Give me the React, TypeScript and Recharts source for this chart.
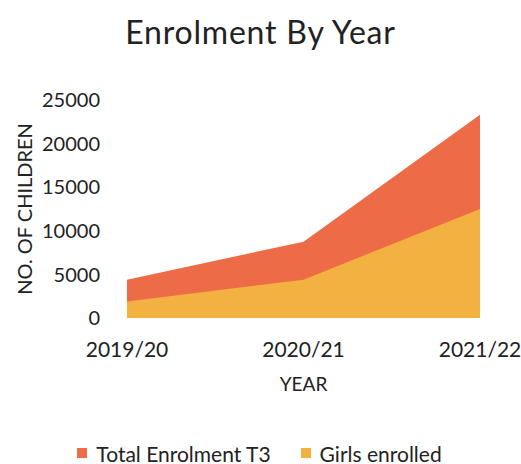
import React from 'react';
import { AreaChart, Area, XAxis, YAxis, Legend } from 'recharts';

const years = ['2019/20', '2020/21', '2021/22'];
const totalEnrolment = [4400, 8750, 23300];
const girlsEnrolled = [1900, 4400, 12500];
const yTicks = [0, 5000, 10000, 15000, 20000, 25000];

const FONT = 'Lato, "Open Sans", sans-serif';
const TOTAL_COLOR = '#EE6B47';
const GIRLS_COLOR = '#F3B141';

const chartData = years.map((year, i) => ({
  year,
  total: totalEnrolment[i],
  girls: girlsEnrolled[i],
}));

const legendItems = [
  { name: 'Total Enrolment T3', color: TOTAL_COLOR },
  { name: 'Girls enrolled', color: GIRLS_COLOR },
];

const CustomLegend = () => (
  <div style={{ display: 'flex', justifyContent: 'center', alignItems: 'center', height: 22, paddingLeft: 12 }}>
    {legendItems.map((item, i) => (
      <div key={item.name} style={{ display: 'flex', alignItems: 'center', marginRight: i === 0 ? 30 : 0 }}>
        <span style={{ width: 10, height: 10, background: item.color, display: 'inline-block', marginRight: 9 }} />
        <span style={{ fontSize: 21, color: '#222', fontFamily: FONT }}>{item.name}</span>
      </div>
    ))}
  </div>
);

export default function App() {
  return (
    <div style={{ position: 'absolute', left: 0, top: 0, width: 521, height: 464, background: '#fff', fontFamily: FONT }}>
      <div
        style={{
          position: 'absolute',
          left: 0,
          top: 12,
          width: 521,
          textAlign: 'center',
          fontSize: 32,
          letterSpacing: 0.8,
          color: '#222',
        }}
      >
        Enrolment By Year
      </div>
      <AreaChart
        width={521}
        height={464}
        data={chartData}
        margin={{ top: 100, right: 41, left: 27, bottom: 0 }}
      >
        <XAxis
          dataKey="year"
          axisLine={false}
          tickLine={false}
          tickMargin={18}
          height={124}
          tick={{ fill: '#222', fontSize: 21, fontFamily: FONT }}
          label={{ value: 'YEAR', position: 'insideTop', offset: 60, fill: '#222', fontSize: 19, fontFamily: FONT }}
        />
        <YAxis
          width={100}
          domain={[0, 25000]}
          ticks={yTicks}
          axisLine={false}
          tickLine={false}
          tickMargin={21}
          tick={{ fill: '#222', fontSize: 20, fontFamily: FONT }}
          label={{
            value: 'NO. OF CHILDREN',
            angle: -90,
            position: 'insideLeft',
            offset: -2,
            fill: '#222',
            fontSize: 20,
            fontFamily: FONT,
            style: { textAnchor: 'middle' },
          }}
        />
        <Legend verticalAlign="bottom" height={22} content={<CustomLegend />} />
        <Area
          type="linear"
          dataKey="total"
          name="Total Enrolment T3"
          stroke="none"
          fill={TOTAL_COLOR}
          fillOpacity={1}
          isAnimationActive={false}
        />
        <Area
          type="linear"
          dataKey="girls"
          name="Girls enrolled"
          stroke="none"
          fill={GIRLS_COLOR}
          fillOpacity={1}
          isAnimationActive={false}
        />
      </AreaChart>
    </div>
  );
}
